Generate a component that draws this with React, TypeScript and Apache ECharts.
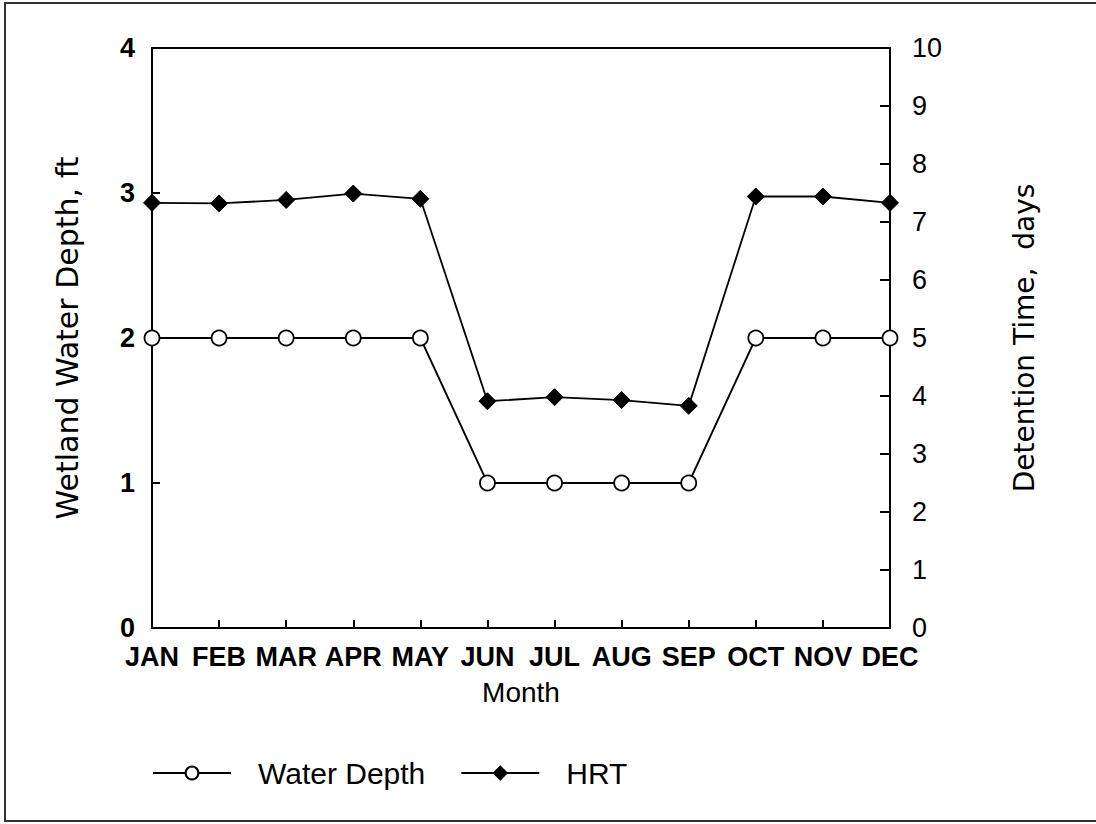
import React, { useEffect, useRef } from "react";
import * as echarts from "echarts";

const months = ["JAN", "FEB", "MAR", "APR", "MAY", "JUN", "JUL", "AUG", "SEP", "OCT", "NOV", "DEC"];
const waterDepth = [2, 2, 2, 2, 2, 1, 1, 1, 1, 2, 2, 2];
const hrt = [7.33, 7.32, 7.38, 7.49, 7.4, 3.91, 3.98, 3.93, 3.83, 7.44, 7.44, 7.33];

const FONT = "Liberation Sans";
const FONT2 = "DejaVu Sans";

export default function App() {
  const ref = useRef<HTMLDivElement>(null);
  useEffect(() => {
    document.body.style.margin = "0";
    const chart = echarts.init(ref.current!, null, { renderer: "svg" });
    chart.setOption({
      animation: false,
      backgroundColor: "#ffffff",
      textStyle: { fontFamily: FONT, color: "#000" },
      graphic: [
        {
          type: "rect",
          shape: { x: 5, y: 3, width: 1100, height: 818 },
          style: { fill: "none", stroke: "#333", lineWidth: 2 },
          silent: true,
        },
      ],
      grid: {
        left: 152,
        right: 206,
        top: 48,
        bottom: 196,
        show: true,
        borderColor: "#000",
        borderWidth: 2,
        backgroundColor: "transparent",
      },
      legend: {
        left: 147,
        top: 753,
        itemWidth: 78,
        itemHeight: 16,
        itemGap: 35,
        textStyle: { fontFamily: FONT, fontSize: 30, color: "#000", padding: [0, 0, 0, 22] },
        data: ["Water Depth", "HRT"],
      },
      xAxis: {
        type: "category",
        data: months,
        boundaryGap: false,
        name: "Month",
        nameLocation: "middle",
        nameGap: 50,
        nameTextStyle: { fontFamily: FONT, fontSize: 28, color: "#000" },
        axisLine: { lineStyle: { color: "#000", width: 2 } },
        axisTick: { inside: true, length: 8, lineStyle: { color: "#000", width: 2 } },
        axisLabel: { fontFamily: FONT, fontSize: 27, fontWeight: "bold", color: "#000", margin: 15, interval: 0 },
        splitLine: { show: false },
      },
      yAxis: [
        {
          type: "value",
          min: 0,
          max: 4,
          interval: 1,
          position: "left",
          name: "Wetland Water Depth, ft",
          nameLocation: "middle",
          nameRotate: 90,
          nameGap: 70,
          nameTextStyle: { fontFamily: FONT2, fontSize: 30, color: "#000" },
          axisLine: { show: true, lineStyle: { color: "#000", width: 2 } },
          axisTick: { show: true, inside: true, length: 8, lineStyle: { color: "#000", width: 2 } },
          axisLabel: { fontFamily: FONT, fontSize: 27, fontWeight: "bold", color: "#000", margin: 17 },
          splitLine: { show: false },
        },
        {
          type: "value",
          min: 0,
          max: 10,
          interval: 1,
          position: "right",
          name: "Detention Time,  days",
          nameLocation: "middle",
          nameRotate: 90,
          nameGap: 120,
          nameTextStyle: { fontFamily: FONT2, fontSize: 28, color: "#000" },
          axisLine: { show: true, lineStyle: { color: "#000", width: 2 } },
          axisTick: { show: true, inside: true, length: 10, lineStyle: { color: "#000", width: 2 } },
          axisLabel: { fontFamily: FONT, fontSize: 27, color: "#000", margin: 22 },
          splitLine: { show: false },
        },
      ],
      series: [
        {
          name: "Water Depth",
          type: "line",
          yAxisIndex: 0,
          data: waterDepth,
          symbol: "circle",
          symbolSize: 15,
          lineStyle: { color: "#000", width: 1.8 },
          itemStyle: { color: "#fff", borderColor: "#000", borderWidth: 1.8 },
          z: 3,
        },
        {
          name: "HRT",
          type: "line",
          yAxisIndex: 1,
          data: hrt,
          symbol: "diamond",
          symbolSize: 17,
          lineStyle: { color: "#000", width: 1.8 },
          itemStyle: { color: "#000", borderColor: "#000", borderWidth: 1 },
          z: 4,
        },
      ],
    });
    return () => chart.dispose();
  }, []);
  return <div ref={ref} style={{ width: 1096, height: 824 }} />;
}
